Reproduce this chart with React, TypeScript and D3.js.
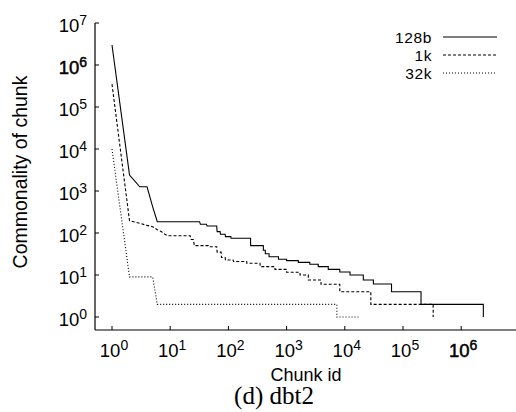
import React from 'react';
import * as d3 from 'd3';

// rank (last chunk id of each level) and commonality for each chunk size
const ranks128 = [1, 2, 4, 5, 32, 42, 63, 72, 88, 110, 240, 398, 430, 500, 725, 1000, 1590, 2500, 3500, 5200, 8200, 12300, 20800, 31000, 63500, 204000, 2400000, 2400001];
const vals128 = [3.0e6, 2400, 1260, 420, 186, 161, 147, 108, 93, 82, 75, 50, 39, 32, 27.3, 23.7, 22, 20, 18, 15.8, 13.6, 11.8, 10, 7.6, 6.1, 4.0, 2.0, 1];

const ranks1k = [1, 2, 3, 4, 5, 6, 7, 8, 22, 25, 45, 63, 75, 88, 121, 206, 350, 630, 1000, 1700, 2360, 3900, 8200, 28000, 330000, 330001];
const vals1k = [3.5e5, 196, 170, 152, 141, 120, 108, 95, 86, 70, 50, 47, 35, 26, 22.8, 21, 19, 15.8, 13.6, 11.6, 10, 7.6, 6, 4, 2, 1];

const ranks32k = [1, 5, 7300, 18300];
const vals32k = [1e4, 9, 2, 1];

const seriesNames = ['128b', '1k', '32k'];
const dashes = ['none', '3,2', '1,2'];
const xTickExps = [0, 1, 2, 3, 4, 5, 6];
const yTickExps = [0, 1, 2, 3, 4, 5, 6, 7];

// turn (lastRank, value) levels into a polyline
function toPoints(ranks: number[], vals: number[]) {
  const pts: [number, number][] = [];
  ranks.forEach((r, i) => {
    const first = i === 0 ? 1 : ranks[i - 1] + 1;
    pts.push([first, vals[i]]);
    if (r > first) pts.push([r, vals[i]]);
  });
  return pts;
}

const sans = 'Liberation Sans, Arial, sans-serif';

export default function App() {
  const W = 516;
  const H = 412;
  const axisX = 95;
  const axisY = 330;

  const x = d3.scaleLog().domain([1, 1e6]).range([112, 461.2]);
  const y = d3.scaleLog().domain([1, 1e7]).range([317, 23]);

  const line = d3
    .line<[number, number]>()
    .x(d => x(d[0]))
    .y(d => y(d[1]));

  const series = [
    toPoints(ranks128, vals128),
    toPoints(ranks1k, vals1k),
    toPoints(ranks32k, vals32k),
  ];

  // 10^6 is a touch heavier in the original
  const heavy = (e: number) => (e === 6 ? {stroke: '#000', strokeWidth: 0.5} : {});

  return (
    <svg width={W} height={H} style={{position: 'fixed', left: 0, top: 0, background: '#fff'}}>
      {/* axes */}
      <line x1={axisX} y1={y(1e7)} x2={axisX} y2={axisY} stroke="#000" strokeWidth={1.2} />
      <line x1={axisX} y1={axisY} x2={W} y2={axisY} stroke="#000" strokeWidth={1.2} />

      {yTickExps.map(e => (
        <g key={'y' + e}>
          <line x1={axisX} x2={axisX + 4} y1={y(10 ** e)} y2={y(10 ** e)} stroke="#000" />
          <text x={87} y={y(10 ** e) + 8.5} textAnchor="end" fontFamily={sans} fontSize={18.5} {...heavy(e)}>
            10<tspan dy={-7} fontSize={14}>{e}</tspan>
          </text>
        </g>
      ))}

      {xTickExps.map(e => (
        <g key={'x' + e}>
          <line x1={x(10 ** e)} x2={x(10 ** e)} y1={axisY} y2={axisY - 4} stroke="#000" />
          <text x={x(10 ** e) + 2} y={357} textAnchor="middle" fontFamily={sans} fontSize={18.5} {...heavy(e)}>
            10<tspan dy={-7} fontSize={14}>{e}</tspan>
          </text>
        </g>
      ))}

      <text x={306} y={381} textAnchor="middle" fontFamily={sans} fontSize={18}>Chunk id</text>
      <text transform="translate(27,172) rotate(-90)" textAnchor="middle" fontFamily={sans} fontSize={19.5}>
        Commonality of chunk
      </text>
      <text x={274} y={404} textAnchor="middle" fontFamily="Liberation Serif, Times New Roman, serif" fontSize={25}>
        (d) dbt2
      </text>

      {series.map((pts, i) => (
        <path key={seriesNames[i]} d={line(pts) || ''} fill="none" stroke="#000" strokeWidth={1.1} strokeDasharray={dashes[i]} />
      ))}

      {/* legend */}
      {seriesNames.map((name, i) => (
        <g key={'leg' + name}>
          <text x={432} y={43 + i * 18} textAnchor="end" fontFamily={sans} fontSize={15.5} letterSpacing={0.6}>{name}</text>
          <line x1={443} x2={497} y1={37 + i * 18} y2={37 + i * 18} stroke="#000" strokeWidth={1.1} strokeDasharray={dashes[i]} />
        </g>
      ))}
    </svg>
  );
}
